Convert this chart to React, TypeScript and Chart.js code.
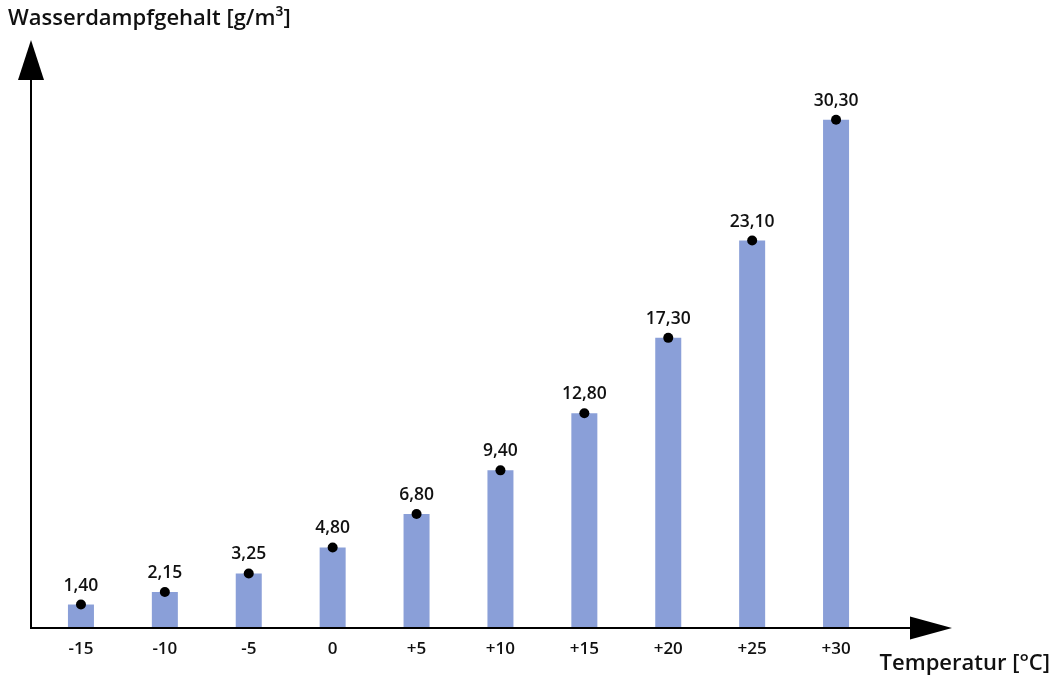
import React, { useEffect, useRef } from "react";
import { Chart, registerables } from "chart.js";

Chart.register(...registerables);

const categories = ["-15", "-10", "-5", "0", "+5", "+10", "+15", "+20", "+25", "+30"];
const values = [1.4, 2.15, 3.25, 4.8, 6.8, 9.4, 12.8, 17.3, 23.1, 30.3];
const valueLabels = ["1,40", "2,15", "3,25", "4,80", "6,80", "9,40", "12,80", "17,30", "23,10", "30,30"];
const yTitle = "Wasserdampfgehalt [g/m³]";
const xTitle = "Temperatur [°C]";

const FONT = "'Open Sans', sans-serif";

const axesPlugin = {
  id: "customAxes",
  afterDatasetsDraw(chart: any) {
    const ctx = chart.ctx;
    const xs = chart.scales.x;
    const ys = chart.scales.y;
    const y0 = ys.getPixelForValue(0);
    const axX = 31;
    ctx.save();
    ctx.strokeStyle = "#000";
    ctx.fillStyle = "#000";
    ctx.lineWidth = 2;
    // y axis
    ctx.beginPath();
    ctx.moveTo(axX, y0 + 1);
    ctx.lineTo(axX, 78);
    ctx.stroke();
    ctx.beginPath();
    ctx.moveTo(axX, 40);
    ctx.lineTo(axX - 13, 80);
    ctx.lineTo(axX + 13, 80);
    ctx.closePath();
    ctx.fill();
    // x axis
    ctx.beginPath();
    ctx.moveTo(axX, y0);
    ctx.lineTo(912, y0);
    ctx.stroke();
    ctx.beginPath();
    ctx.moveTo(952, y0);
    ctx.lineTo(910, y0 - 11.5);
    ctx.lineTo(910, y0 + 11.5);
    ctx.closePath();
    ctx.fill();
    // tick labels
    ctx.fillStyle = "#111";
    ctx.font = `600 17px ${FONT}`;
    ctx.textAlign = "center";
    ctx.textBaseline = "middle";
    categories.forEach((c, i) => {
      ctx.fillText(c, xs.getPixelForValue(i), y0 + 21);
    });
    // value labels
    ctx.font = `600 17.5px ${FONT}`;
    const meta = chart.getDatasetMeta(1);
    meta.data.forEach((pt: any, i: number) => {
      ctx.fillText(valueLabels[i], pt.x, pt.y - 19);
    });
    // titles
    ctx.font = `600 22px ${FONT}`;
    ctx.textAlign = "left";
    ctx.fillText(yTitle, 8, 19);
    ctx.textAlign = "right";
    ctx.fillText(xTitle, 1050, 664);
    ctx.restore();
  },
};

export default function App() {
  const ref = useRef<HTMLCanvasElement>(null);
  useEffect(() => {
    if (!ref.current) return;
    const chart = new Chart(ref.current, {
      type: "bar",
      data: {
        labels: categories,
        datasets: [
          {
            type: "bar",
            data: values,
            backgroundColor: "#8A9FD8",
            barPercentage: 0.31,
            categoryPercentage: 1,
            order: 2,
          },
          {
            type: "line",
            data: values,
            showLine: false,
            pointRadius: 5,
            pointBackgroundColor: "#000",
            pointBorderColor: "#000",
            pointBorderWidth: 0,
            order: 1,
          } as any,
        ],
      },
      options: {
        animation: false,
        responsive: false,
        layout: { padding: { left: 39, right: 180, top: 41, bottom: 48 } },
        plugins: { legend: { display: false }, tooltip: { enabled: false } },
        scales: {
          x: { display: false, offset: true },
          y: { display: false, min: 0, max: 35 },
        },
      },
      plugins: [axesPlugin],
    });
    return () => chart.destroy();
  }, []);
  return (
    <div style={{ position: "absolute", left: 0, top: 0, width: 1058, height: 676, background: "#fff" }}>
      <canvas ref={ref} width={1058} height={676} style={{ width: 1058, height: 676 }} />
    </div>
  );
}
